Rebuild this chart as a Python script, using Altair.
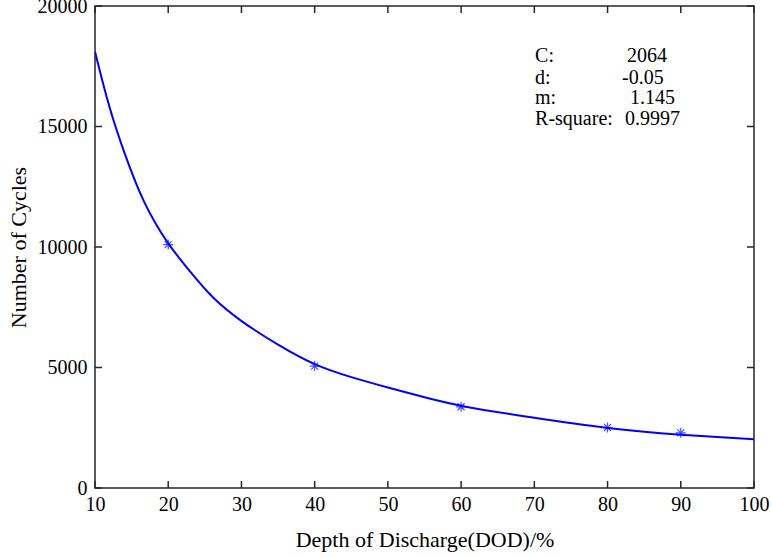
import altair as alt
import pandas as pd

# Fitted curve
curve_dod = [10, 12, 14, 16.6, 20, 23, 26, 30, 35, 40, 45, 50, 55, 60, 70, 80, 90, 100]
curve_cycles = [18100, 15680, 13900, 11800, 10080, 8980, 7870, 6890, 5930, 5080,
                4590, 4170, 3760, 3380, 2910, 2460, 2200, 2020]

# Measured points (asterisks)
point_dod = [20, 40, 60, 80, 90]
point_cycles = [10100, 5060, 3370, 2510, 2290]

# Annotation
ann_labels = ["C:", "d:", "m:", "R-square:"]
ann_values = ["2064", "-0.05", "1.145", "0.9997"]

x_ticks = [10, 20, 30, 40, 50, 60, 70, 80, 90, 100]
y_ticks = [0, 5000, 10000, 15000, 20000]

curve_df = pd.DataFrame({"dod": curve_dod, "cycles": curve_cycles})
point_df = pd.DataFrame({"dod": point_dod, "cycles": point_cycles})
xt_df = pd.DataFrame({"dod": x_ticks})
yt_df = pd.DataFrame({"cycles": y_ticks})
one_row = pd.DataFrame({"k": [0]})

FONT = "Liberation Serif"
AX = "#262626"
BLUE = "#0000ff"
W, H, TL = 659, 482, 7

xscale = alt.Scale(domain=[10, 100], nice=False, zero=False)
yscale = alt.Scale(domain=[0, 20000], nice=False)

main_line = alt.Chart(curve_df).mark_line(
    color=BLUE, strokeWidth=2, interpolate="basis", clip=True
).encode(
    x=alt.X("dod:Q", scale=xscale, axis=alt.Axis(
        orient="bottom", values=x_ticks, ticks=False, tickSize=0, labelPadding=6,
        labelFontSize=20, title="Depth of Discharge(DOD)/%", titleFontSize=22,
        titlePadding=15, labelFlush=False)),
    y=alt.Y("cycles:Q", scale=yscale, axis=alt.Axis(
        orient="left", values=y_ticks, ticks=False, tickSize=0, labelPadding=8,
        labelFontSize=20, format="d", title="Number of Cycles", titleFontSize=22,
        titlePadding=7, labelFlush=False)),
)

# Inward tick marks on all four sides of the box
tick_style = dict(color=AX, strokeWidth=1.5)
ticks_bottom = alt.Chart(xt_df).mark_rule(**tick_style).encode(
    x=alt.X("dod:Q", scale=xscale), y=alt.value(H), y2=alt.value(H - TL))
ticks_top = alt.Chart(xt_df).mark_rule(**tick_style).encode(
    x=alt.X("dod:Q", scale=xscale), y=alt.value(0), y2=alt.value(TL))
ticks_left = alt.Chart(yt_df).mark_rule(**tick_style).encode(
    y=alt.Y("cycles:Q", scale=yscale), x=alt.value(0), x2=alt.value(TL))
ticks_right = alt.Chart(yt_df).mark_rule(**tick_style).encode(
    y=alt.Y("cycles:Q", scale=yscale), x=alt.value(W), x2=alt.value(W - TL))

star = "M-1,0L1,0M0,-1L0,1M-0.7,-0.7L0.7,0.7M-0.7,0.7L0.7,-0.7"
points = alt.Chart(point_df).mark_point(
    shape=star, size=100, color=BLUE, strokeWidth=1.2, filled=False
).encode(
    x=alt.X("dod:Q", scale=xscale),
    y=alt.Y("cycles:Q", scale=yscale),
)

label_x = 70.1
value_x = [82.66, 81.97, 83.07, 82.38]
row_y = [17676, 16763, 15934, 15062]

text_layers = []
for i, (lab, val) in enumerate(zip(ann_labels, ann_values)):
    text_layers.append(alt.Chart(one_row).mark_text(
        text=lab, align="left", baseline="alphabetic", font=FONT, fontSize=20, color="black"
    ).encode(x=alt.datum(label_x, scale=xscale), y=alt.datum(row_y[i], scale=yscale)))
    text_layers.append(alt.Chart(one_row).mark_text(
        text=val, align="left", baseline="alphabetic", font=FONT, fontSize=20, color="black"
    ).encode(x=alt.datum(value_x[i], scale=xscale), y=alt.datum(row_y[i], scale=yscale)))

chart = alt.layer(
    main_line, ticks_bottom, ticks_top, ticks_left, ticks_right, points, *text_layers
).properties(
    width=W, height=H,
    autosize=alt.AutoSizeParams(type="none"),
    padding={"left": 95, "top": 6, "right": 18, "bottom": 70},
    background="white",
).configure_view(
    stroke=AX, strokeWidth=1.5
).configure_axis(
    domain=False, grid=False,
    labelFont=FONT, labelColor="black", titleFont=FONT, titleColor="black",
    titleFontWeight="normal",
)

chart.save("out.html", embed_options={"renderer": "svg", "actions": False})
